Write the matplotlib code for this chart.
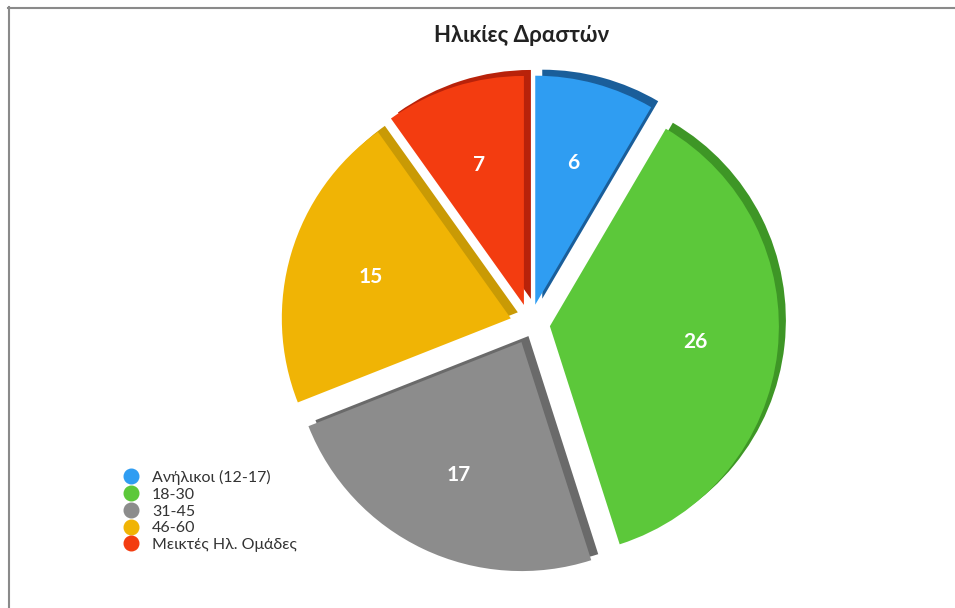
import matplotlib
matplotlib.use("Agg")
import matplotlib.pyplot as plt
from matplotlib.lines import Line2D

# Data
categories = ["Ανήλικοι (12-17)", "18-30", "31-45", "46-60", "Μεικτές Ηλ. Ομάδες"]
values = [6, 26, 17, 15, 7]
title = "Ηλικίες Δραστών"

colors = ["#2F9DF2", "#5CC83A", "#8C8C8C", "#F0B405", "#F33C10"]
side_colors = ["#1A5E9A", "#3E9626", "#6A6A6A", "#C99A05", "#B8220A"]

W, H = 955, 608
plt.rcParams['font.family'] = ['Lato', 'DejaVu Sans']

fig = plt.figure(figsize=(W / 100, H / 100), dpi=100)
ax = fig.add_axes([0, 0, 1, 1])

cx, cy = 530, H - 324
r = 229
exp = [20] * len(values)

# depth / side faces
ax.pie(values, colors=side_colors, startangle=90, counterclock=False,
       explode=exp, radius=r, center=(cx + 7, cy + 6),
       wedgeprops=dict(linewidth=0))

wedges, texts, autotexts = ax.pie(
    values, colors=colors, startangle=90, counterclock=False,
    explode=exp, radius=r, center=(cx, cy),
    autopct=lambda p: f"{round(p * sum(values) / 100):d}",
    pctdistance=0.64,
    wedgeprops=dict(linewidth=0),
    textprops=dict(color="white", fontsize=15, fontweight='bold'))

ax.set_xlim(0, W)
ax.set_ylim(0, H)
ax.set_aspect('equal')
ax.axis('off')

fig.text(522 / W, 1 - 35 / H, title, ha='center', va='center',
         fontsize=16, fontweight='bold', color='#222222')

handles = [Line2D([0], [0], marker='o', linestyle='none', markersize=10.5,
                  markerfacecolor=c, markeredgecolor=c) for c in colors]
ax.legend(handles, categories, loc='upper left',
          bbox_to_anchor=(124 / W, 1 - 470 / H), bbox_transform=fig.transFigure,
          frameon=False, fontsize=11.5, labelspacing=0.16, handletextpad=0.85,
          handlelength=0.9, borderpad=0, borderaxespad=0,
          labelcolor='#333333')

# outer frame (top and left edges)
fig.add_artist(Line2D([8 / W, 1], [1 - 7.5 / H, 1 - 7.5 / H],
                      transform=fig.transFigure, color='#8a8a8a', linewidth=1.5))
fig.add_artist(Line2D([8.5 / W, 8.5 / W], [0, 1 - 7 / H],
                      transform=fig.transFigure, color='#8a8a8a', linewidth=1.5))

fig.savefig("out.png", dpi=100, facecolor='white')
